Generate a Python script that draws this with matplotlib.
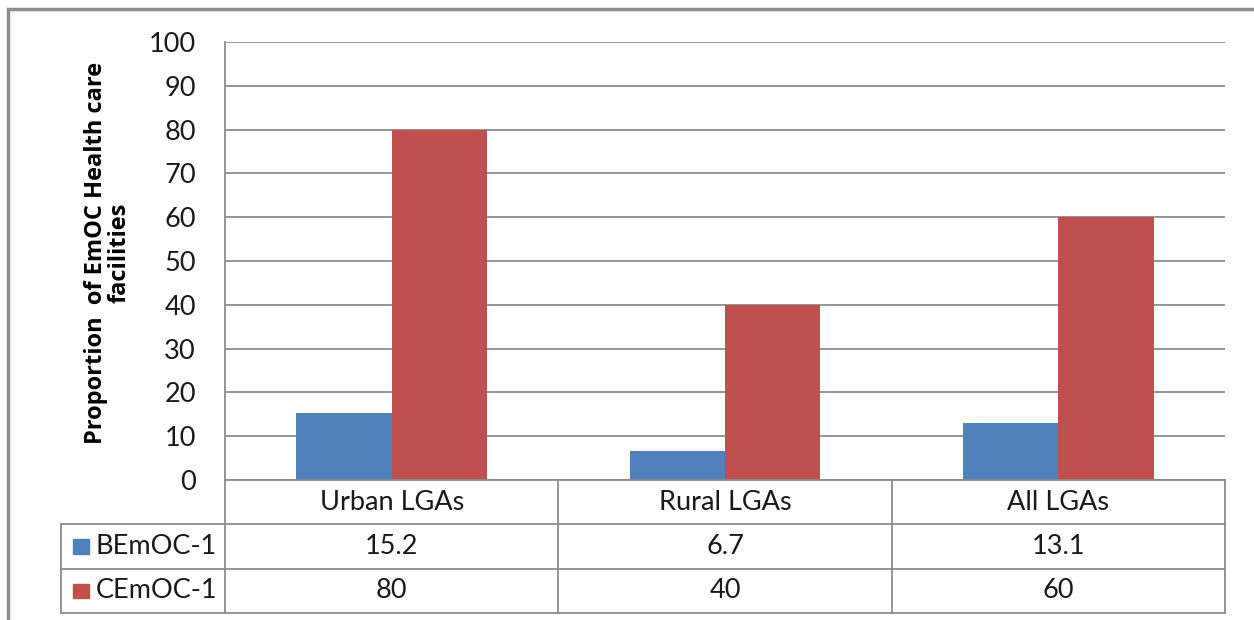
import numpy as np
import matplotlib.pyplot as plt
from matplotlib.patches import Rectangle

plt.rcParams['font.family'] = ['Lato', 'DejaVu Sans']

categories = ["Urban LGAs", "Rural LGAs", "All LGAs"]
series_names = ["BEmOC-1", "CEmOC-1"]
bemoc = [15.2, 6.7, 13.1]
cemoc = [80, 40, 60]
colors = ["#4F81BD", "#C0504D"]
yticks = list(range(0, 101, 10))

W, H = 1254, 620
grid_c = "#8C8C8C"
txt_c = "#1A1A1A"
fs = 19.5

fig = plt.figure(figsize=(W / 100, H / 100), dpi=100)

# outer chart frame (only top/left visible in the crop)
fig.add_artist(Rectangle((8 / W, -0.1), 1.2, (H - 9) / H + 0.1, transform=fig.transFigure,
                         fill=False, edgecolor="#8F8F8F", linewidth=2.5))

# plot area
px_l, px_r, px_t, px_b = 225, 1225, 42, 480
ax = fig.add_axes([px_l / W, (H - px_b) / H, (px_r - px_l) / W, (px_b - px_t) / H])
x = np.arange(len(categories))
bw = 1 / 3.5
ax.bar(x - bw / 2, bemoc, width=bw, color=colors[0], zorder=3)
ax.bar(x + bw / 2, cemoc, width=bw, color=colors[1], zorder=3)
ax.set_xlim(-0.5, len(categories) - 0.5)
ax.set_ylim(0, 100)
ax.set_yticks(yticks)
ax.set_yticklabels([str(v) for v in yticks], fontsize=fs, color=txt_c)
ax.tick_params(axis='y', length=0, pad=21)
ax.set_xticks([])
ax.yaxis.grid(True, color=grid_c, linewidth=1.3, zorder=0)
for s in ["top", "right", "bottom"]:
    ax.spines[s].set_visible(False)
ax.spines["left"].set_color(grid_c)
ax.spines["left"].set_linewidth(1.3)

fig.text(108 / W, 1 - 253 / H, "Proportion  of EmOC Health care\nfacilities", rotation=90,
         ha="center", va="center", fontsize=17, fontweight="bold", color="black",
         family=["Open Sans", "DejaVu Sans"], linespacing=1.0)

# data table
t_l, t_b = 61, 613
unit = (px_r - px_l) / len(categories)
left_edge = -0.5 - (px_l - t_l) / unit
tb = fig.add_axes([t_l / W, (H - t_b) / H, (px_r - t_l) / W, (t_b - px_b) / H])
tb.set_xlim(left_edge, len(categories) - 0.5)
tb.set_ylim(3, 0)
tb.axis("off")
lw = 1.3
# horizontal lines
tb.plot([-0.5, len(categories) - 0.5], [0, 0], color=grid_c, lw=lw, clip_on=False)
for yy in [1, 2, 3]:
    tb.plot([left_edge, len(categories) - 0.5], [yy, yy], color=grid_c, lw=lw, clip_on=False)
# vertical lines
tb.plot([left_edge, left_edge], [1, 3], color=grid_c, lw=lw, clip_on=False)
for k in range(len(categories) + 1):
    tb.plot([k - 0.5, k - 0.5], [0, 3], color=grid_c, lw=lw, clip_on=False)

for k, c in enumerate(categories):
    tb.text(k, 0.5, c, ha="center", va="center", fontsize=fs, color=txt_c)
for row, (vals, name, col) in enumerate(zip([bemoc, cemoc], series_names, colors), start=1):
    for k, v in enumerate(vals):
        tb.text(k, row + 0.5, f"{v:g}", ha="center", va="center", fontsize=fs, color=txt_c)
    tb.add_patch(Rectangle((left_edge + 0.036, row + 0.34), 0.048, 0.32, color=col, clip_on=False))
    tb.text(left_edge + 0.105, row + 0.5, name, ha="left", va="center", fontsize=fs, color=txt_c)

fig.savefig("out.png", dpi=100)
